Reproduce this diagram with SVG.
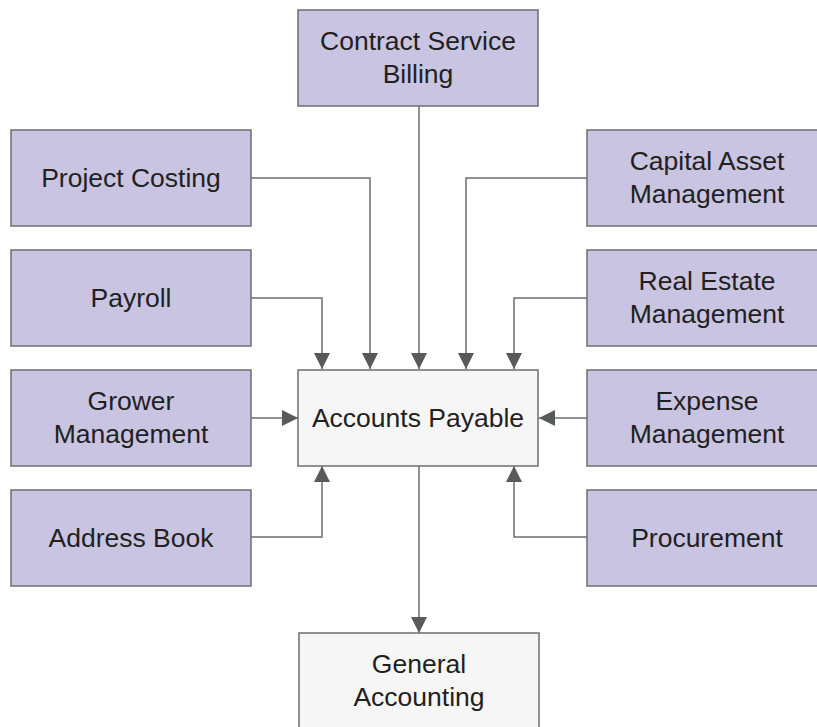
<svg xmlns="http://www.w3.org/2000/svg" width="817" height="727" viewBox="0 0 817 727">
<defs>
<style>
.box{fill:#c8c4e1;stroke:#6d6e71;stroke-width:1.5}
.main{fill:#f6f6f6;stroke:#6d6e71;stroke-width:1.5}
.lbl{font-family:"Liberation Sans",Arial,sans-serif;font-size:26.5px;fill:#231f20;text-anchor:middle}
.con{fill:none;stroke:#6d6e71;stroke-width:1.5}
</style>
<marker id="ah" viewBox="0 0 16 16" refX="16" refY="8" markerWidth="16" markerHeight="16" markerUnits="userSpaceOnUse" orient="auto">
<path d="M0,0 L16,8 L0,16 Z" fill="#58595b"/>
</marker>
</defs>
<rect width="817" height="727" fill="#ffffff"/>
<g id="connectors">
<path class="con" d="M419,106 V369" marker-end="url(#ah)"/>
<path class="con" d="M251,178 H370 V369" marker-end="url(#ah)"/>
<path class="con" d="M251,298 H322 V369" marker-end="url(#ah)"/>
<path class="con" d="M587,178 H466 V369" marker-end="url(#ah)"/>
<path class="con" d="M587,298 H514 V369" marker-end="url(#ah)"/>
<path class="con" d="M251,418 H298" marker-end="url(#ah)"/>
<path class="con" d="M587,418 H539" marker-end="url(#ah)"/>
<path class="con" d="M251,537 H322 V466" marker-end="url(#ah)"/>
<path class="con" d="M587,537 H514 V466" marker-end="url(#ah)"/>
<path class="con" d="M419,466 V633" marker-end="url(#ah)"/>
</g>
<g id="contract-service-billing">
<rect class="box" x="298" y="10" width="240" height="96"/>
<text class="lbl" x="418" y="50">Contract Service</text>
<text class="lbl" x="418" y="83">Billing</text>
</g>
<g id="project-costing">
<rect class="box" x="11" y="130" width="240" height="96"/>
<text class="lbl" x="131" y="187">Project Costing</text>
</g>
<g id="payroll">
<rect class="box" x="11" y="250" width="240" height="96"/>
<text class="lbl" x="131" y="307">Payroll</text>
</g>
<g id="grower-management">
<rect class="box" x="11" y="370" width="240" height="96"/>
<text class="lbl" x="131" y="410">Grower</text>
<text class="lbl" x="131" y="443">Management</text>
</g>
<g id="address-book">
<rect class="box" x="11" y="490" width="240" height="96"/>
<text class="lbl" x="131" y="547">Address Book</text>
</g>
<g id="capital-asset-management">
<rect class="box" x="587" y="130" width="240" height="96"/>
<text class="lbl" x="707" y="170">Capital Asset</text>
<text class="lbl" x="707" y="203">Management</text>
</g>
<g id="real-estate-management">
<rect class="box" x="587" y="250" width="240" height="96"/>
<text class="lbl" x="707" y="290">Real Estate</text>
<text class="lbl" x="707" y="323">Management</text>
</g>
<g id="expense-management">
<rect class="box" x="587" y="370" width="240" height="96"/>
<text class="lbl" x="707" y="410">Expense</text>
<text class="lbl" x="707" y="443">Management</text>
</g>
<g id="procurement">
<rect class="box" x="587" y="490" width="240" height="96"/>
<text class="lbl" x="707" y="547">Procurement</text>
</g>
<g id="accounts-payable">
<rect class="main" x="298" y="370" width="240" height="96"/>
<text class="lbl" x="418" y="427">Accounts Payable</text>
</g>
<g id="general-accounting">
<rect class="main" x="299" y="633" width="240" height="96"/>
<text class="lbl" x="419" y="673">General</text>
<text class="lbl" x="419" y="706">Accounting</text>
</g>
</svg>
